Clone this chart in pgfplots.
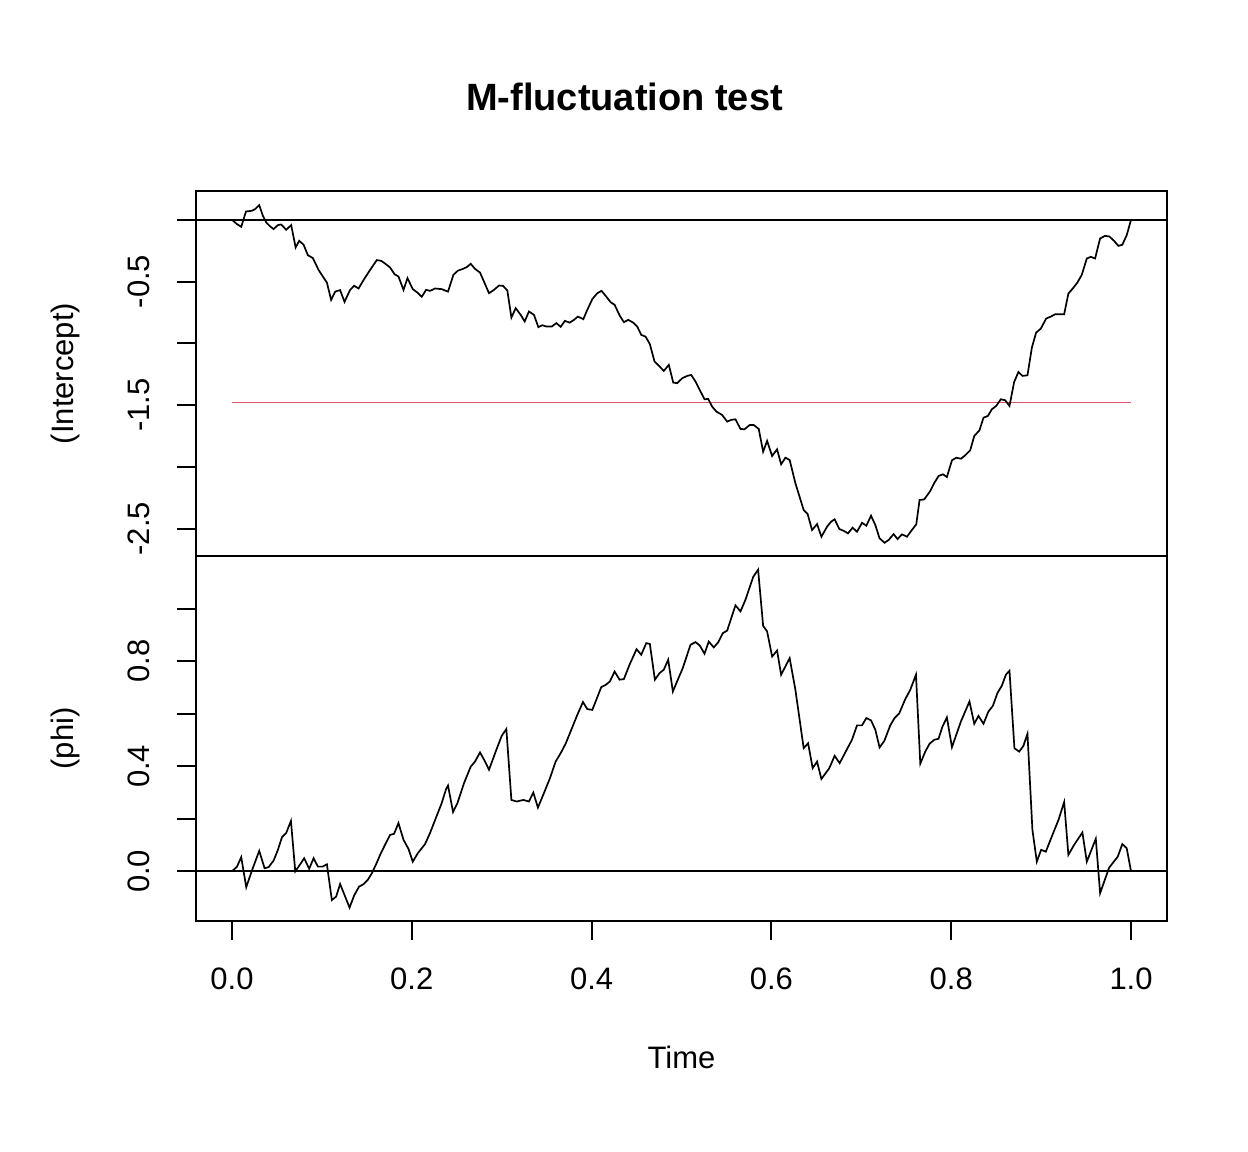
\documentclass[border=0pt]{standalone}
\usepackage{fontspec}
\setmainfont{Liberation Sans}
\usepackage{pgfplots}
\pgfplotsset{compat=1.18}
\definecolor{rline}{HTML}{DF536B}

\pgfplotsset{
  rstyle/.style={
    scale only axis,
    width=485.5bp, height=182.5bp,
    anchor=south west,
    xmin=-0.04, xmax=1.04,
    axis line style={line width=1bp, black},
    tick style={line width=1bp, black},
    tick align=outside,
    tick pos=left,
    major tick length=9.5bp,
    font=\fontsize{15.5bp}{18bp}\selectfont,
    yticklabel style={xshift=-13.3bp, rotate=90, anchor=south, inner sep=0pt, font=\fontsize{15.5bp}{18bp}\selectfont},
    xticklabel style={yshift=-13.5bp, anchor=north, inner sep=0pt, font=\fontsize{15.5bp}{18bp}\selectfont},
    ylabel style={at={(axis description cs:-0.1349,0.5)}, rotate=0, anchor=center, inner sep=0pt},
    every axis plot/.append style={line width=0.85bp},
  }
}

\begin{document}
\begin{tikzpicture}
\path[use as bounding box] (0,0) rectangle (624bp,576bp);

\node[font=\bfseries\fontsize{19bp}{22bp}\selectfont, anchor=center] at (312.25bp,527.5bp) {M-fluctuation test};

% top panel
\begin{axis}[rstyle,
  at={(98bp,298bp)},
  ymin=-2.72, ymax=0.233,
  xtick=\empty,
  ytick={-2.5,-2,-1.5,-1,-0.5,0},
  yticklabels={-2.5,,-1.5,,-0.5,},
  ylabel={(Intercept)},
]
\addplot[black, line width=1bp] coordinates {(-0.04,0) (1.04,0)};
\addplot[rline] coordinates {(0,-1.479) (1,-1.479)};
\addplot[black] coordinates {
(0,0) (0.0056,-0.035) (0.0103,-0.057) (0.0156,0.067) (0.0222,0.073) (0.0259,0.087) (0.0303,0.119) (0.0344,0.032) (0.0381,-0.022) (0.0426,-0.054) (0.0463,-0.075) (0.0511,-0.043) (0.0548,-0.038) (0.0603,-0.081) (0.0659,-0.043) (0.0708,-0.224) (0.0748,-0.170) (0.0797,-0.202) (0.0844,-0.286) (0.0900,-0.310) (0.0963,-0.405) (0.1011,-0.459) (0.1056,-0.508) (0.1103,-0.648) (0.1148,-0.581) (0.1203,-0.569) (0.1252,-0.664) (0.1314,-0.567) (0.1359,-0.534) (0.1408,-0.556) (0.1463,-0.488) (0.1537,-0.405) (0.1611,-0.326) (0.1659,-0.332) (0.1703,-0.354) (0.1759,-0.386) (0.1808,-0.440) (0.1852,-0.459) (0.1908,-0.567) (0.1952,-0.472) (0.2011,-0.561) (0.2063,-0.589) (0.2111,-0.623) (0.2159,-0.567) (0.2203,-0.575) (0.2259,-0.556) (0.2333,-0.561) (0.2381,-0.575) (0.2403,-0.581) (0.2463,-0.445) (0.2514,-0.411) (0.2563,-0.399) (0.2611,-0.383) (0.2656,-0.356) (0.2703,-0.397) (0.2759,-0.427) (0.2803,-0.500) (0.2859,-0.594) (0.2914,-0.567) (0.2970,-0.532) (0.3014,-0.534) (0.3063,-0.572) (0.3108,-0.791) (0.3156,-0.715) (0.3211,-0.769) (0.3256,-0.823) (0.3303,-0.742) (0.3359,-0.769) (0.3408,-0.869) (0.3452,-0.853) (0.3500,-0.864) (0.3556,-0.864) (0.3608,-0.836) (0.3656,-0.866) (0.3703,-0.818) (0.3756,-0.832) (0.3803,-0.810) (0.3848,-0.783) (0.3908,-0.804) (0.3952,-0.729) (0.4008,-0.642) (0.4063,-0.594) (0.4111,-0.575) (0.4156,-0.615) (0.4211,-0.666) (0.4256,-0.688) (0.4314,-0.777) (0.4359,-0.828) (0.4408,-0.810) (0.4463,-0.832) (0.4508,-0.864) (0.4552,-0.931) (0.4600,-0.945) (0.4648,-1.006) (0.4700,-1.147) (0.4748,-1.180) (0.4803,-1.223) (0.4859,-1.174) (0.4908,-1.317) (0.4952,-1.322) (0.5008,-1.282) (0.5063,-1.263) (0.5108,-1.255) (0.5156,-1.309) (0.5203,-1.377) (0.5256,-1.452) (0.5297,-1.449) (0.5341,-1.512) (0.5389,-1.552) (0.5452,-1.579) (0.5508,-1.633) (0.5552,-1.619) (0.5600,-1.614) (0.5656,-1.692) (0.5700,-1.695) (0.5759,-1.660) (0.5803,-1.660) (0.5859,-1.692) (0.5908,-1.876) (0.5952,-1.789) (0.6008,-1.911) (0.6063,-1.857) (0.6108,-1.978) (0.6156,-1.925) (0.6203,-1.943) (0.6267,-2.132) (0.6359,-2.348) (0.6403,-2.381) (0.6452,-2.510) (0.6508,-2.462) (0.6556,-2.564) (0.6619,-2.483) (0.6663,-2.443) (0.6703,-2.423) (0.6756,-2.502) (0.6803,-2.516) (0.6852,-2.537) (0.6903,-2.491) (0.6952,-2.524) (0.7008,-2.451) (0.7056,-2.475) (0.7108,-2.394) (0.7156,-2.470) (0.7203,-2.577) (0.7259,-2.613) (0.7303,-2.591) (0.7359,-2.543) (0.7403,-2.583) (0.7452,-2.545) (0.7508,-2.564) (0.7556,-2.516) (0.7611,-2.464) (0.7648,-2.267) (0.7700,-2.262) (0.7767,-2.194) (0.7811,-2.130) (0.7859,-2.073) (0.7908,-2.059) (0.7952,-2.081) (0.8008,-1.946) (0.8056,-1.925) (0.8108,-1.933) (0.8156,-1.905) (0.8211,-1.865) (0.8256,-1.749) (0.8314,-1.703) (0.8359,-1.601) (0.8408,-1.587) (0.8452,-1.533) (0.8500,-1.506) (0.8552,-1.452) (0.8600,-1.460) (0.8648,-1.506) (0.8700,-1.312) (0.8748,-1.231) (0.8792,-1.263) (0.8848,-1.258) (0.8897,-1.034) (0.8944,-0.913) (0.8997,-0.880) (0.9056,-0.799) (0.9108,-0.783) (0.9156,-0.764) (0.9256,-0.764) (0.9303,-0.597) (0.9352,-0.556) (0.9403,-0.508) (0.9452,-0.445) (0.9508,-0.313) (0.9552,-0.300) (0.9600,-0.313) (0.9656,-0.151) (0.9711,-0.130) (0.9759,-0.135) (0.9811,-0.170) (0.9859,-0.211) (0.9903,-0.202) (0.9952,-0.124) (1.0,0)
};
\end{axis}

% bottom panel
\begin{axis}[rstyle,
  at={(98bp,115.5bp)},
  ymin=-0.189, ymax=1.201,
  xtick={0,0.2,0.4,0.6,0.8,1},
  xticklabels={0.0,0.2,0.4,0.6,0.8,1.0},
  ytick={0,0.2,0.4,0.6,0.8,1},
  yticklabels={0.0,,0.4,,0.8,},
  ylabel={(phi)},
  xlabel={Time},
  xlabel style={at={(axis description cs:0.5,-0.3726)}, anchor=center, inner sep=0pt},
]
\addplot[black, line width=1bp] coordinates {(-0.04,0) (1.04,0)};
\addplot[black] coordinates {
(0,0) (0.0056,0.018) (0.0103,0.054) (0.0159,-0.060) (0.0222,0.003) (0.0303,0.078) (0.0363,0.012) (0.0407,0.016) (0.0463,0.041) (0.0511,0.082) (0.0556,0.130) (0.0603,0.146) (0.0656,0.192) (0.0704,0.000) (0.0759,0.027) (0.0803,0.050) (0.0859,0.010) (0.0908,0.050) (0.0956,0.018) (0.1007,0.018) (0.1056,0.027) (0.1111,-0.109) (0.1159,-0.096) (0.1203,-0.048) (0.1259,-0.096) (0.1308,-0.138) (0.1359,-0.092) (0.1414,-0.058) (0.1463,-0.049) (0.1511,-0.032) (0.1556,-0.007) (0.1603,0.027) (0.1656,0.069) (0.1711,0.107) (0.1759,0.139) (0.1803,0.143) (0.1852,0.184) (0.1908,0.120) (0.1963,0.086) (0.2011,0.037) (0.2067,0.069) (0.2148,0.104) (0.2203,0.146) (0.2270,0.205) (0.2333,0.260) (0.2381,0.313) (0.2403,0.327) (0.2459,0.226) (0.2508,0.260) (0.2581,0.336) (0.2656,0.399) (0.2703,0.418) (0.2759,0.453) (0.2811,0.421) (0.2859,0.387) (0.2933,0.456) (0.3000,0.516) (0.3052,0.542) (0.3108,0.272) (0.3167,0.266) (0.3241,0.272) (0.3303,0.266) (0.3352,0.300) (0.3403,0.243) (0.3470,0.298) (0.3537,0.355) (0.3600,0.418) (0.3656,0.450) (0.3711,0.486) (0.3774,0.539) (0.3841,0.596) (0.3904,0.645) (0.3952,0.618) (0.4008,0.615) (0.4052,0.653) (0.4108,0.702) (0.4156,0.710) (0.4203,0.723) (0.4256,0.761) (0.4311,0.730) (0.4359,0.732) (0.4422,0.787) (0.4500,0.846) (0.4552,0.825) (0.4608,0.869) (0.4648,0.866) (0.4704,0.730) (0.4756,0.755) (0.4803,0.768) (0.4852,0.806) (0.4904,0.685) (0.4959,0.730) (0.5014,0.774) (0.5100,0.863) (0.5156,0.873) (0.5203,0.860) (0.5256,0.829) (0.5303,0.875) (0.5359,0.853) (0.5408,0.872) (0.5459,0.907) (0.5508,0.917) (0.5600,1.013) (0.5656,0.990) (0.5711,1.034) (0.5797,1.121) (0.5852,1.149) (0.5908,0.935) (0.5952,0.914) (0.6008,0.818) (0.6063,0.841) (0.6108,0.749) (0.6203,0.812) (0.6267,0.691) (0.6359,0.469) (0.6408,0.488) (0.6459,0.393) (0.6508,0.418) (0.6556,0.352) (0.6644,0.393) (0.6703,0.440) (0.6759,0.412) (0.6822,0.453) (0.6896,0.501) (0.6952,0.556) (0.7008,0.556) (0.7056,0.584) (0.7108,0.575) (0.7156,0.539) (0.7203,0.472) (0.7256,0.497) (0.7322,0.556) (0.7370,0.584) (0.7422,0.602) (0.7489,0.656) (0.7544,0.691) (0.7608,0.749) (0.7656,0.410) (0.7711,0.456) (0.7759,0.486) (0.7811,0.501) (0.7859,0.505) (0.7903,0.552) (0.7952,0.586) (0.8008,0.473) (0.8108,0.571) (0.8203,0.647) (0.8256,0.562) (0.8303,0.592) (0.8359,0.562) (0.8414,0.609) (0.8463,0.630) (0.8514,0.679) (0.8563,0.707) (0.8608,0.749) (0.8648,0.764) (0.8703,0.469) (0.8756,0.456) (0.8803,0.478) (0.8848,0.524) (0.8903,0.158) (0.8952,0.037) (0.9000,0.082) (0.9052,0.075) (0.9119,0.133) (0.9193,0.196) (0.9256,0.264) (0.9303,0.063) (0.9367,0.101) (0.9459,0.148) (0.9508,0.037) (0.9608,0.124) (0.9656,-0.083) (0.9756,0.014) (0.9852,0.056) (0.9903,0.104) (0.9952,0.088) (1.0,0)
};
\end{axis}
\end{tikzpicture}
\end{document}
